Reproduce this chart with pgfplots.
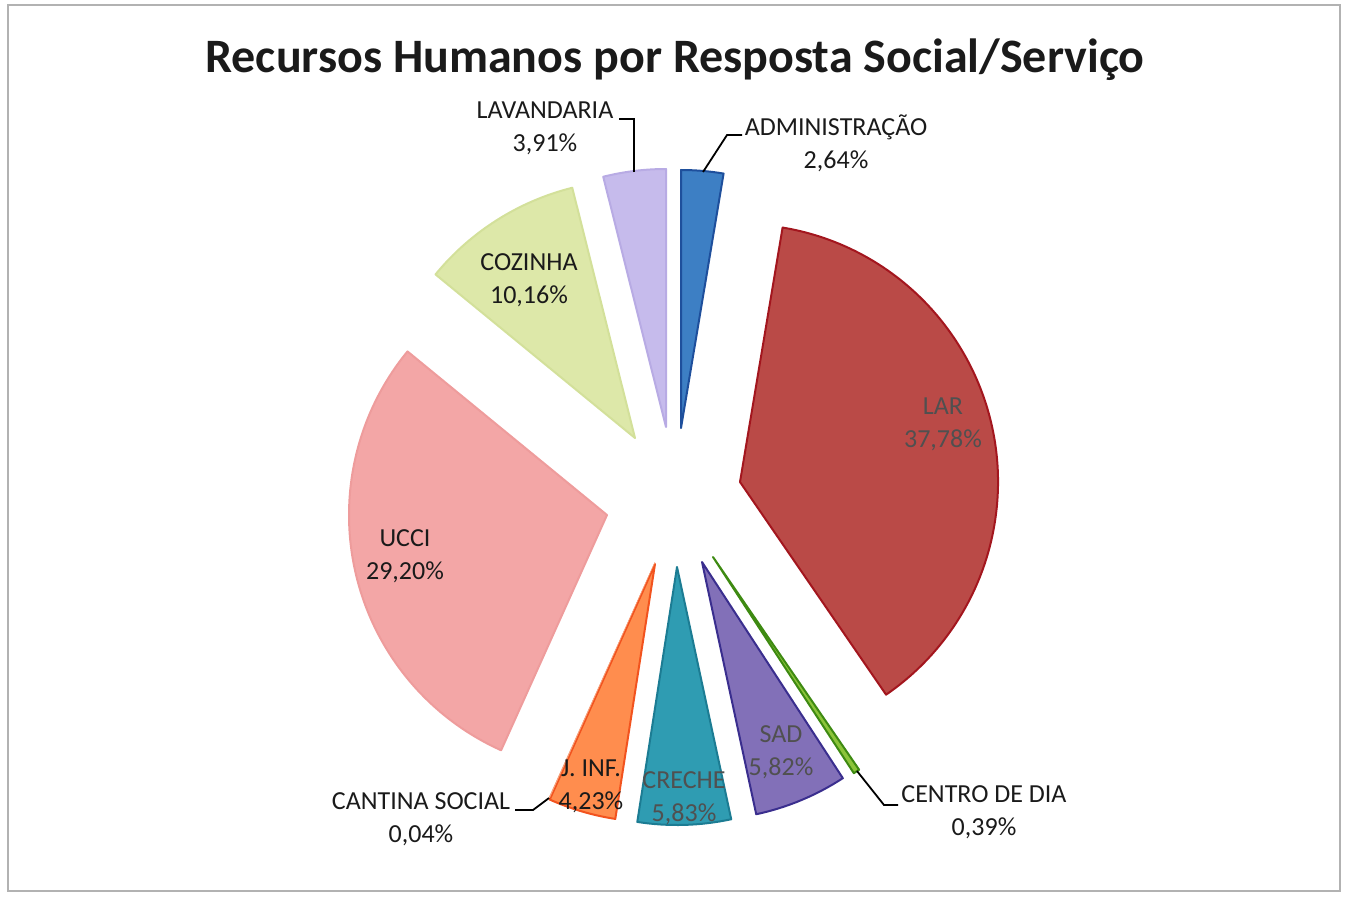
\documentclass[border=0pt]{standalone}
\usepackage{fontspec}
\setmainfont{Carlito}
\usepackage{pgfplots}
\usepackage{pgfplotstable}
\pgfplotsset{compat=1.18}

% slice data: percentage and position (px, y down) of each exploded slice's apex
\pgfplotstableread{
name value vx vy lw
ADM 2.64 681 428 1
LAR 37.78 740 482 1
CDD 0.39 713 557 1
SAD 5.82 702 562 1
CRE 5.83 677 567 1
JIN 4.23 655 564 1
CAN 0.04 655 562 0.2
UCC 29.20 607 515 1
COZ 10.16 635 438 1
LAV 3.91 666 427 1
}\piedata
\pgfplotstablecreatecol[create col/expr accum={\pgfmathaccuma + \thisrow{value}}{0}]{cum}\piedata

\definecolor{slice0}{HTML}{3D7FC4}\definecolor{edge0}{HTML}{1E4F9C}
\definecolor{slice1}{HTML}{BA4A47}\definecolor{edge1}{HTML}{A3161E}
\definecolor{slice2}{HTML}{8CC43A}\definecolor{edge2}{HTML}{3E8A12}
\definecolor{slice3}{HTML}{8270B8}\definecolor{edge3}{HTML}{3A2E8E}
\definecolor{slice4}{HTML}{2F9CB2}\definecolor{edge4}{HTML}{1C7C93}
\definecolor{slice5}{HTML}{FF8D4E}\definecolor{edge5}{HTML}{F2531E}
\definecolor{slice6}{HTML}{F6A07A}\definecolor{edge6}{HTML}{F6A07A}
\definecolor{slice7}{HTML}{F3A6A6}\definecolor{edge7}{HTML}{EE9C9C}
\definecolor{slice8}{HTML}{DDE8A9}\definecolor{edge8}{HTML}{D3E09A}
\definecolor{slice9}{HTML}{C6BBEC}\definecolor{edge9}{HTML}{B8ABE4}
\definecolor{lbl}{HTML}{1A1A1A}
\definecolor{lblg}{HTML}{505050}

\begin{document}
\begin{tikzpicture}
\begin{axis}[hide axis, x=0.5bp, y=0.5bp, y dir=reverse,
  xmin=0, xmax=1348, ymin=0, ymax=901, scale only axis, clip=false]
\path (axis cs:0,0) rectangle (axis cs:1348,901);
\draw[black!30, line width=0.6bp] (axis cs:8,5) rectangle (axis cs:1340,891);
\pgfplotsinvokeforeach{0,...,9}{
  \pgfplotstablegetelem{#1}{value}\of\piedata \let\sv\pgfplotsretval
  \pgfplotstablegetelem{#1}{cum}\of\piedata \let\sc\pgfplotsretval
  \pgfplotstablegetelem{#1}{vx}\of\piedata \let\svx\pgfplotsretval
  \pgfplotstablegetelem{#1}{vy}\of\piedata \let\svy\pgfplotsretval
  \pgfplotstablegetelem{#1}{lw}\of\piedata \let\slw\pgfplotsretval
  \pgfmathsetmacro\aone{90-3.6*(\sc-\sv)}
  \pgfmathsetmacro\atwo{90-3.6*\sc}
  \edef\temp{\noexpand\filldraw[fill=slice#1, draw=edge#1, line width=\slw bp, line join=round]
    (axis cs:\svx,\svy) -- ++(\aone:129bp) arc[start angle=\aone, end angle=\atwo, radius=129bp] -- cycle;}
  \temp
}
% title
\node[font=\fontsize{24bp}{28bp}\selectfont\bfseries, text=lbl] at (axis cs:675,60) {Recursos Humanos por Resposta Social/Serviço};
% labels
\tikzset{lab/.style={font=\fontsize{13bp}{16.5bp}\selectfont, align=center, text=lbl, inner sep=0pt}}
\node[lab] at (axis cs:545,128.5) {LAVANDARIA\\3,91\%};
\node[lab] at (axis cs:836,143.5) {ADMINISTRAÇÃO\\2,64\%};
\node[lab] at (axis cs:529,280.5) {COZINHA\\10,16\%};
\node[lab, text=lblg] at (axis cs:943,424) {LAR\\37,78\%};
\node[lab] at (axis cs:405,556.5) {UCCI\\29,20\%};
\node[lab, text=lblg] at (axis cs:781,752.5) {SAD\\5,82\%};
\node[lab, text=lblg] at (axis cs:684,798.5) {CRECHE\\5,83\%};
\node[lab] at (axis cs:591,786) {J. INF.\\4,23\%};
\node[lab] at (axis cs:421,819.5) {CANTINA SOCIAL\\0,04\%};
\node[lab] at (axis cs:984,812.5) {CENTRO DE DIA\\0,39\%};
% leader lines
\draw[black, line width=0.9bp] (axis cs:634,172) -- (axis cs:634,119) -- (axis cs:619,119);
\draw[black, line width=0.9bp] (axis cs:703,172) -- (axis cs:727,135) -- (axis cs:742,135);
\draw[black, line width=0.9bp] (axis cs:857,771) -- (axis cs:884,805) -- (axis cs:898,805);
\draw[black, line width=0.9bp] (axis cs:549,798) -- (axis cs:533,810) -- (axis cs:515,810);
\end{axis}
\end{tikzpicture}
\end{document}
